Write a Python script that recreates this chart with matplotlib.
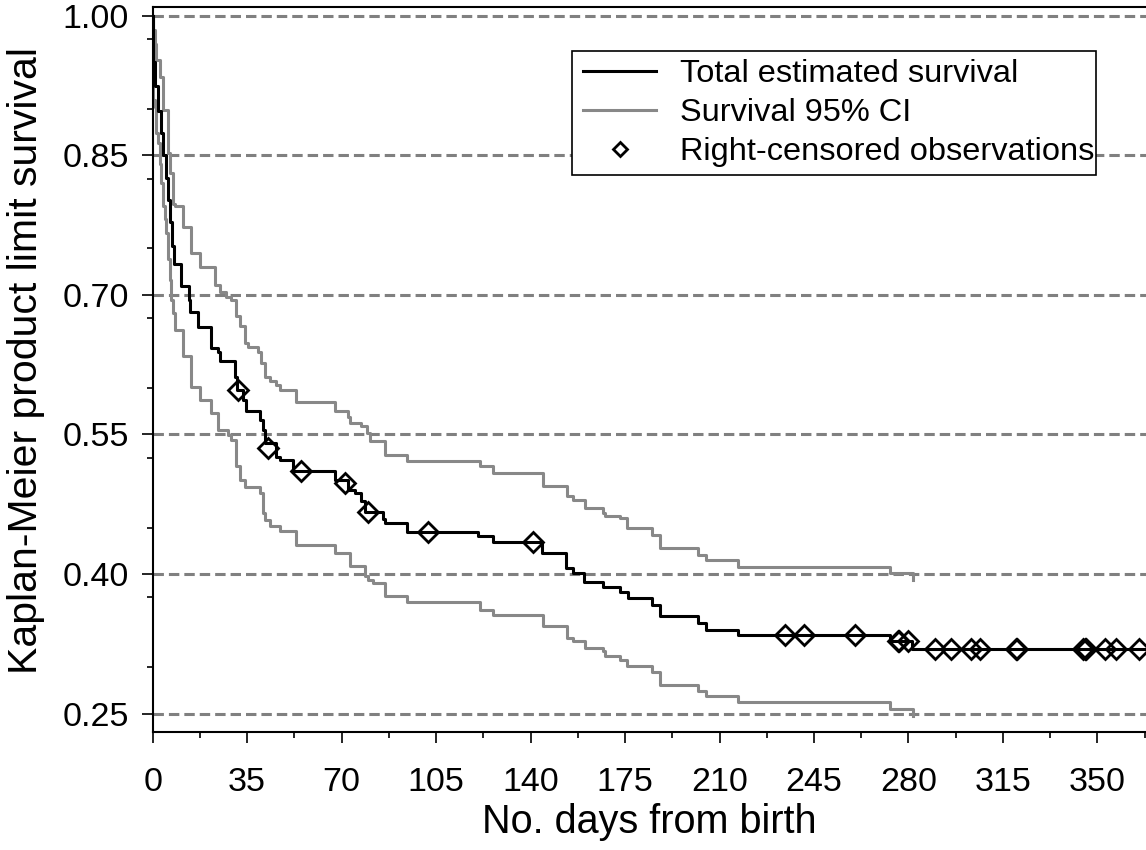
import matplotlib
matplotlib.use('Agg')
import matplotlib.pyplot as plt
from matplotlib.lines import Line2D
from matplotlib.patches import Rectangle
from matplotlib.ticker import MultipleLocator, FormatStrFormatter

plt.rcParams['font.family'] = ['Liberation Sans', 'DejaVu Sans']
plt.rcParams['lines.scale_dashes'] = False

# ---------------- data ----------------
km_days = [0, 0.3, 1.0, 1.8, 3.2, 4.0, 4.9, 5.7, 6.4, 7.2, 7.9, 10.6, 13.4, 14.0,
           16.8, 21.7, 24.2, 24.8, 30.4, 31.3, 33.5, 34.7, 39.6, 40.9, 41.5,
           45.8, 47.0, 52.0, 67.4, 72.4, 74.8, 77.2, 78.5, 85.4, 86.0, 94.1,
           120.6, 126.2, 144.1, 153.1, 155.8, 159.9, 167.0, 173.1, 176.2,
           184.9, 187.9, 202.1, 205.0, 217.0, 273.2, 281.3, 368]
km_surv = [1.0, 0.950, 0.924, 0.898, 0.874, 0.850, 0.826, 0.802, 0.778, 0.753,
           0.733, 0.709, 0.695, 0.682, 0.665, 0.643, 0.639, 0.629, 0.612, 0.598,
           0.587, 0.575, 0.566, 0.555, 0.541, 0.526, 0.523, 0.511, 0.501, 0.490,
           0.487, 0.479, 0.467, 0.459, 0.455, 0.445, 0.441, 0.434, 0.423, 0.4065,
           0.401, 0.392, 0.386, 0.381, 0.374, 0.367, 0.355, 0.3475, 0.340,
           0.334, 0.328, 0.3196, 0.3196]

upper_days = [0, 0.1, 0.7, 1.3, 2.6, 3.8, 5.7, 6.3, 7.5, 8.2, 11.2, 14.3, 17.4,
              23.0, 24.8, 27.0, 29.1, 31.0, 32.2, 34.1, 35.3, 39.0, 40.2, 41.5,
              43.3, 45.8, 47.1, 53.2, 67.4, 72.4, 73.0, 77.3, 79.3, 80.5, 86.0,
              94.1, 121.3, 126.2, 144.7, 153.4, 155.8, 160.2, 167.0, 167.6,
              173.1, 175.6, 184.9, 188.0, 202.1, 205.0, 217.0, 273.2, 281.8]
upper_surv = [1.0, 0.985, 0.970, 0.952, 0.934, 0.899, 0.852, 0.831, 0.798, 0.795,
              0.773, 0.745, 0.730, 0.711, 0.7035, 0.698, 0.695, 0.677, 0.666,
              0.648, 0.6445, 0.639, 0.627, 0.612, 0.607, 0.603, 0.598, 0.585,
              0.575, 0.569, 0.562, 0.5586, 0.5515, 0.5425, 0.528, 0.522, 0.5156,
              0.5085, 0.4949, 0.4834, 0.4799, 0.471, 0.4656, 0.462, 0.4602,
              0.4495, 0.4423, 0.428, 0.4208, 0.4155, 0.4076, 0.4012, 0.394]

lower_days = [0, 0.1, 0.7, 1.3, 2.0, 2.6, 3.2, 3.8, 4.4, 5.0, 5.7, 6.3, 6.9, 7.5,
              8.2, 11.2, 14.3, 17.4, 21.7, 24.2, 27.9, 29.1, 31.0, 32.2, 34.1,
              39.6, 40.9, 41.5, 43.3, 47.1, 53.2, 67.4, 73.0, 78.5, 79.9, 81.7,
              86.0, 94.1, 121.3, 126.2, 144.7, 153.4, 155.8, 160.2, 167.0, 167.6,
              173.1, 175.6, 184.9, 188.0, 202.1, 205.0, 217.0, 273.2, 281.8]
lower_surv = [1.0, 0.909, 0.902, 0.874, 0.863, 0.841, 0.820, 0.795, 0.781, 0.766,
              0.738, 0.716, 0.695, 0.680, 0.662, 0.634, 0.6015, 0.587, 0.573,
              0.555, 0.5497, 0.5443, 0.5156, 0.5013, 0.494, 0.487, 0.4656, 0.4584,
              0.4512, 0.4458, 0.4316, 0.4226, 0.4083, 0.3975, 0.394, 0.3904,
              0.376, 0.3696, 0.3617, 0.3564, 0.3438, 0.3314, 0.3277, 0.3206,
              0.317, 0.3116, 0.3081, 0.3009, 0.2944, 0.2812, 0.274, 0.2687,
              0.2622, 0.2551, 0.248]

censor_days = [31.6, 42.7, 54.8, 71.1, 79.8, 101.9, 140.8, 234.2, 241.2, 260.3,
               276.0, 276.6, 279.8, 289.7, 295.7, 303.3, 306.4, 320.0, 320.3,
               344.8, 345.4, 345.8, 352.8, 356.8, 365.4]
censor_surv = [0.598, 0.535, 0.511, 0.498, 0.467, 0.445, 0.434, 0.334, 0.334,
               0.334, 0.328, 0.328, 0.328, 0.3196, 0.3196, 0.3196, 0.3196,
               0.3196, 0.3196, 0.3196, 0.3196, 0.3196, 0.3196, 0.3196, 0.3196]

x_ticks = [0, 35, 70, 105, 140, 175, 210, 245, 280, 315, 350]
y_ticks = [0.25, 0.40, 0.55, 0.70, 0.85, 1.00]

legend_labels = ['Total estimated survival', 'Survival 95% CI',
                 'Right-censored observations']

# ---------------- figure ----------------
W, H = 1146, 850
fig = plt.figure(figsize=(W / 100, H / 100), dpi=100)
ax = fig.add_axes([0.1332, 0.1385, 0.8668, 0.8536])

grid_color = '#808080'
ci_color = '#888888'

for yv in y_ticks:
    ax.axhline(yv, color=grid_color, lw=2.2, ls=(0, (7.5, 3.6)), zorder=1)

ax.step(upper_days, upper_surv, where='post', color=ci_color, lw=2.2, zorder=2)
ax.step(lower_days, lower_surv, where='post', color=ci_color, lw=2.2, zorder=2)
ax.step(km_days, km_surv, where='post', color='black', lw=2.2, zorder=3)
ax.plot(censor_days, censor_surv, ls='none', marker='D', ms=10, mfc='none',
        mec='black', mew=2.0, zorder=4)

ax.set_xlim(0, 368)
ax.set_ylim(0.23, 1.0096)

ax.set_xticks(x_ticks)
ax.xaxis.set_minor_locator(MultipleLocator(17.5))
ax.set_yticks(y_ticks)
ax.yaxis.set_minor_locator(MultipleLocator(0.075))
ax.yaxis.set_major_formatter(FormatStrFormatter('%.2f'))

ax.tick_params(which='major', direction='out', length=8.2, width=1.2,
               labelsize=24.5, color='black')
ax.tick_params(which='minor', direction='out', length=4.3, width=1.2,
               color='black')
ax.tick_params(axis='x', which='major', pad=17)
ax.tick_params(axis='y', which='major', pad=9)

for side in ['left', 'top', 'bottom']:
    ax.spines[side].set_linewidth(1.5)
ax.spines['right'].set_visible(False)

ax.set_xlabel('No. days from birth', fontsize=28.5)
ax.xaxis.set_label_coords(0.5, -0.0975)
ax.set_ylabel('Kaplan-Meier product limit survival', fontsize=29.5)
ax.yaxis.set_label_coords(-0.1084, 0.513)

handles = [Line2D([], [], color='black', lw=2.2),
           Line2D([], [], color=ci_color, lw=2.2),
           Line2D([], [], ls='none', marker='D', ms=7, mfc='none', mec='black',
                  mew=2.0)]
leg = fig.legend(handles, legend_labels, loc='center left',
                 bbox_to_anchor=(583 / W, 1 - 113 / H), borderaxespad=0,
                 fontsize=23.4, frameon=False, handlelength=2.25,
                 handletextpad=0.74, labelspacing=0.28, borderpad=0)
leg.set_zorder(6)

# legend frame drawn around the legend contents
fig.canvas.draw()
ext = leg.get_window_extent()
box_h = 124
cy = (ext.y0 + ext.y1) / 2
frame = Rectangle(((ext.x0 - 11) / W, (cy - box_h / 2) / H),
                  (ext.x1 - ext.x0 + 12) / W, box_h / H,
                  transform=fig.transFigure, facecolor='white',
                  edgecolor='black', lw=1.2, zorder=5)
fig.add_artist(frame)

fig.savefig('out.png', dpi=100)
